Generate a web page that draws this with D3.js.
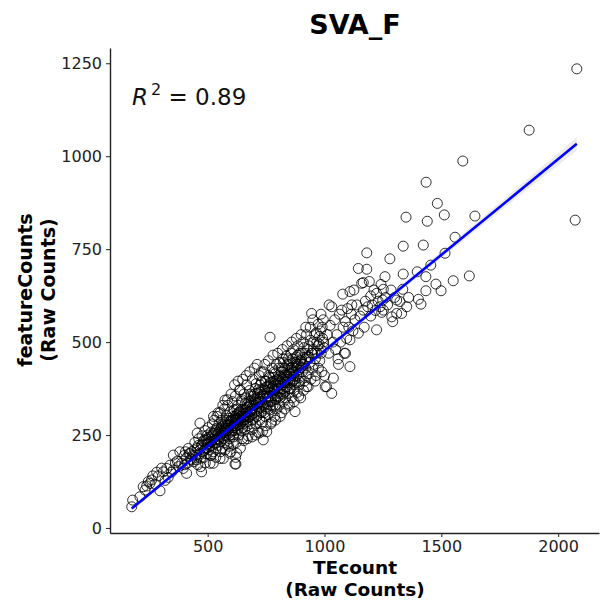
<!DOCTYPE html>
<html><head><meta charset="utf-8">
<script src="https://cdn.jsdelivr.net/npm/d3@7"></script>
<style>body{margin:0;background:#fff}svg{display:block}text{font-family:"DejaVu Sans",sans-serif}</style>
</head><body>
<svg id="c" width="602" height="601"></svg>
<script>
const chartTitle = "SVA_F";
const xTicks = [500, 1000, 1500, 2000];
const yTicks = [0, 250, 500, 750, 1000, 1250];
const fitCoef = [-38, 0.515]; // intercept, slope
const r2Label = "0.89";
const teCount = [
175,179,210,224,232,239,246,253,260,265,275,282,289,296,303,310,318,325,331,339,345,353,353,362,370,375,381,389,395,400,405,410,417,425,431,453,467,474,488,510,524,553,567,574,595,617,621,624,638,
402,408,414,420,426,436,443,448,460,468,478,486,493,498,
432,440,445,450,455,458,462,466,470,473,476,479,482,485,488,491,494,497,499,
502,505,507,510,512,515,518,520,522,524,526,528,531,533,536,538,540,542,545,547,549,
551,553,556,558,560,562,565,567,569,571,573,574,576,578,580,582,584,586,588,590,592,594,596,598,599,
601,603,605,607,609,611,613,615,617,619,621,623,624,626,628,630,632,634,636,638,640,642,644,646,648,649,
651,653,655,657,659,661,663,665,667,669,671,673,674,676,678,680,682,684,686,688,690,692,694,696,698,699,
701,703,705,707,709,711,713,715,717,719,721,723,724,726,728,730,732,734,736,738,740,742,744,746,748,749,
751,753,755,757,759,761,763,765,767,769,771,773,774,776,778,780,782,784,786,788,790,792,794,796,798,799,
801,803,805,807,809,811,813,815,817,819,821,823,824,826,828,830,832,834,836,838,840,842,844,846,848,849,
851,853,855,857,859,861,863,865,867,869,871,873,874,876,878,880,882,884,886,888,890,892,894,896,898,899,
902,905,908,911,914,917,920,923,924,927,930,933,936,939,942,945,948,949,952,955,958,961,964,967,970,973,974,
977,980,983,986,989,992,995,998,
503,508,513,517,521,529,534,539,544,548,552,557,561,566,570,575,579,583,587,591,595,597,
602,606,610,614,618,622,627,631,635,639,643,647,652,656,660,664,668,672,677,681,685,689,693,697,
702,706,710,714,718,722,727,731,735,739,743,747,752,756,760,764,768,772,777,781,785,789,793,797,
802,806,810,814,818,822,827,831,835,839,843,847,852,856,860,864,868,872,877,881,885,889,893,897,
903,907,912,918,922,928,934,940,946,953,959,965,971,978,984,990,996,
1003,1009,1012,1018,1024,1031,1031,1036,1038,1044,1048,1053,1058,1064,1069,1074,1078,1080,1085,1090,1095,1099,
1104,1109,1109,1109,1115,1117,1122,1126,1130,1138,1145,1145,1152,1159,1166,1166,1170,1175,1181,1181,1185,1192,1198,1198,
1205,1212,1218,1223,1223,1230,1238,1242,1249,1245,
1252,1252,1259,1262,1270,1280,1285,1288,1292,1300,1309,1309,1323,1330,1335,1337,1337,1349,1352,1360,1397,1402,1413,1423,1434,1434,1435,1440,1455,1477,1483,1499,1513,1516,1551,1559,1592,1620,1644,1876,2073,2080,
455,470,490,500,515,525,535,545,555,565,575,585,590,600,610,615,620,630,640,650,655,665,670,680,690,700,705,712,720,730,735,745,750,760,770,780,790,800,810,820,830,840,850,860,870,880,890,900,910,920,930,950,960,985,1000,1020,1060,1090,
560,580,600,620,640,660,680,700,720,740,760,780,800,820,840,860,880,900,625,645,665,685,705,725,745,765,785,805,825,845,610,630,650,670,690,710,730,750,770,790,810,830,850,870
];
const featureCounts = [
57,75,84,111,102,113,125,120,129,140,118,150,140,100,161,151,128,160,136,169,150,156,196,175,180,165,205,174,160,195,205,147,214,200,183,183,282,151,237,174,174,187,187,344,201,172,172,201,371,
170,188,175,200,185,195,210,190,222,210,225,208,235,215,
205,178,230,196,215,170,240,200,188,222,248,205,232,190,262,215,200,240,225,
270,210,245,232,195,258,222,280,238,205,255,290,228,248,212,268,300,240,222,258,280,
245,310,232,268,290,215,255,275,240,320,262,230,285,248,302,268,225,330,278,255,295,240,312,270,205,
290,258,340,275,300,245,318,282,262,355,295,230,275,305,268,330,290,250,312,372,280,300,262,345,295,240,
318,280,360,302,265,335,292,310,385,275,325,248,300,340,298,370,312,280,355,322,265,400,330,295,345,310,
360,318,280,388,335,300,350,258,372,322,410,290,340,365,312,392,340,285,355,237,420,330,372,300,348,395,
325,259,380,352,305,410,340,372,513,318,390,350,285,430,362,330,395,372,300,415,348,385,440,320,368,400,
352,410,375,330,445,390,360,420,310,398,375,455,340,405,370,430,392,350,462,410,380,440,335,400,418,365,
450,398,375,470,415,350,432,395,480,408,370,445,313,420,392,460,430,365,490,415,440,385,470,405,350,432,
455,420,500,440,395,470,430,520,380,460,415,490,445,540,400,577,470,430,480,440,520,455,410,500,470,548,430,
495,450,530,470,420,510,560,485,
228,218,240,232,250,236,262,230,252,238,262,250,272,244,265,280,258,290,262,275,250,288,
280,262,292,270,300,282,292,310,278,300,318,285,305,290,318,300,332,312,298,328,340,305,320,355,
330,345,315,362,338,325,350,372,330,355,310,378,362,335,380,355,392,340,375,405,358,330,398,382,
390,365,408,382,430,360,392,412,380,425,395,440,415,430,392,455,420,400,445,410,465,425,395,450,
470,440,485,455,410,480,460,505,470,500,470,525,490,515,480,540,500,
380,380,520,470,545,362,595,500,403,560,480,520,455,575,500,586,629,540,470,555,510,590,
540,434,506,636,575,600,530,640,560,600,524,698,570,658,586,660,540,610,696,740,595,663,624,570,
600,640,585,533,631,610,595,655,613,580,
642,586,676,620,600,724,640,568,555,620,577,613,609,577,642,683,758,836,595,620,689,615,602,761,676,638,930,825,707,656,873,638,842,739,665,782,987,678,839,1070,828,1235,
255,165,175,250,195,300,190,310,205,330,210,345,220,360,225,385,190,395,215,400,235,410,240,420,245,430,250,440,255,420,260,440,275,450,280,465,290,470,300,480,320,490,330,500,340,510,355,520,370,540,380,560,395,575,410,600,440,470,
260,275,285,290,310,300,330,340,345,360,365,380,395,400,410,425,440,450,320,340,350,360,375,385,395,405,420,430,445,455,250,265,270,285,290,300,310,320,330,345,350,365,375,385
];

const svg = d3.select("#c");
const x = d3.scaleLinear().domain([82, 2175]).range([110, 599]);
const y = d3.scaleLinear().domain([-13.5, 1291]).range([533, 48]);
const n = Math.min(teCount.length, featureCounts.length);
const pts = d3.range(n).map(i => ({x: teCount[i], y: featureCounts[i]}));

// points
svg.append("g").selectAll("circle").data(pts).join("circle")
  .attr("cx", d => x(d.x)).attr("cy", d => y(d.y)).attr("r", 5)
  .attr("fill", "none").attr("stroke", "#000").attr("stroke-width", 0.9).attr("stroke-opacity", 0.9);

// fit line
const xmin = d3.min(teCount), xmax = d3.max(teCount);
const fx = v => fitCoef[0] + fitCoef[1] * v;
const band = d3.range(0, 21).map(i => xmin + (xmax - xmin) * i / 20);
const se = v => 4 + 14 * Math.pow((v - 700) / 1400, 2);
svg.append("path").datum(band)
  .attr("d", d3.area().x(v => x(v)).y0(v => y(fx(v) - se(v))).y1(v => y(fx(v) + se(v))))
  .attr("fill", "#999").attr("opacity", 0.2);
svg.append("path").datum([xmin, xmax])
  .attr("d", d3.line().x(v => x(v)).y(v => y(fx(v))))
  .attr("stroke", "#0000ff").attr("stroke-width", 2.6).attr("fill", "none");

// axes
const fmt = d3.format("d");
const xa = svg.append("g").attr("transform", "translate(0,533)")
  .call(d3.axisBottom(x).tickValues(xTicks).tickFormat(fmt).tickSize(4).tickSizeOuter(0).tickPadding(4));
const ya = svg.append("g").attr("transform", "translate(110,0)")
  .call(d3.axisLeft(y).tickValues(yTicks).tickFormat(fmt).tickSize(4).tickSizeOuter(0).tickPadding(4));
[xa, ya].forEach(a => {
  a.selectAll("text").attr("font-family", "DejaVu Sans").attr("font-size", 16).attr("fill", "#222");
  a.selectAll("line").attr("stroke", "#333").attr("stroke-width", 1.1);
  a.select(".domain").attr("stroke", "#222").attr("stroke-width", 1.4);
});

// title
svg.append("text").attr("x", 355).attr("y", 34).attr("text-anchor", "middle")
  .attr("font-size", 27).attr("font-weight", "bold").text(chartTitle);

// R^2 label
const rt = svg.append("text").attr("x", 132).attr("y", 105).attr("font-size", 23).attr("fill", "#111");
rt.append("tspan").attr("font-style", "italic").text("R");
rt.append("tspan").attr("font-size", 16).attr("dy", -10).attr("dx", 3).text("2");
rt.append("tspan").attr("dy", 10).text(" = " + r2Label);

// axis titles
const xt1 = svg.append("text").attr("text-anchor", "middle").attr("font-size", 18.5).attr("font-weight", "bold")
  .attr("x", 355).attr("y", 574).text("TEcount");
const xt2 = svg.append("text").attr("text-anchor", "middle").attr("font-size", 18.5).attr("font-weight", "bold")
  .attr("x", 355).attr("y", 596).text("(Raw Counts)");
const yt1 = svg.append("text").attr("text-anchor", "middle").attr("font-size", 19).attr("font-weight", "bold")
  .attr("transform", "translate(32,290) rotate(-90)").text("featureCounts");
const yt2 = svg.append("text").attr("text-anchor", "middle").attr("font-size", 19).attr("font-weight", "bold")
  .attr("transform", "translate(55,290) rotate(-90)").text("(Raw Counts)");
</script>
</body></html>
